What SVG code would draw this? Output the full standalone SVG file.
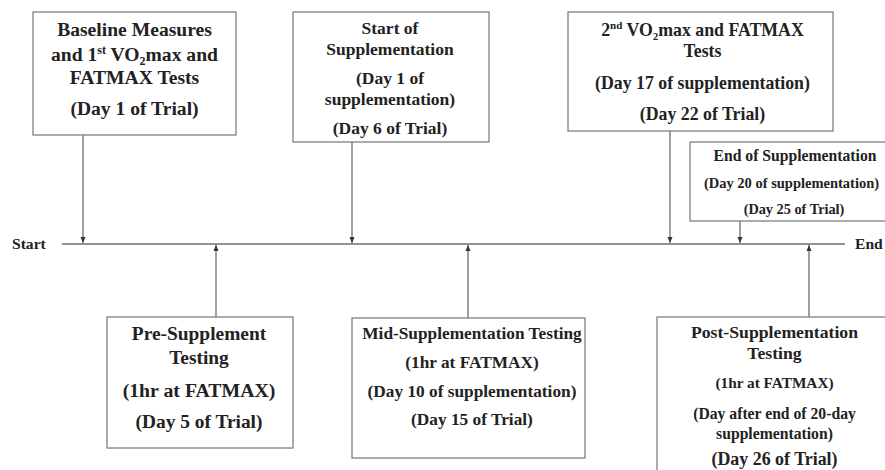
<svg xmlns="http://www.w3.org/2000/svg" width="885" height="470" viewBox="0 0 885 470">
<style>
  .box{fill:#fff;stroke:#808080;stroke-width:1.3}
  .ln{stroke:#6e6e6e;stroke-width:1.3;fill:none}
  text{font-family:"Liberation Serif","Times New Roman",serif;font-weight:bold;fill:#222;text-anchor:middle}
  .lbl{text-anchor:start;font-size:15.6px}
</style>
<defs>
  <marker id="ah" viewBox="0 0 6 6" refX="6" refY="3" markerWidth="6" markerHeight="6" orient="auto" markerUnits="userSpaceOnUse">
    <path d="M0,0.5 L6,3 L0,5.5 Z" fill="#333"/>
  </marker>
</defs>
<rect width="885" height="470" fill="#fff"/>

<g id="connectors">
  <line class="ln" x1="62" y1="244" x2="845" y2="244"/>
  <line class="ln" x1="83" y1="135" x2="83" y2="243" marker-end="url(#ah)"/>
  <line class="ln" x1="352" y1="142" x2="352" y2="243" marker-end="url(#ah)"/>
  <line class="ln" x1="670" y1="131" x2="670" y2="243" marker-end="url(#ah)"/>
  <line class="ln" x1="740" y1="221" x2="740" y2="243" marker-end="url(#ah)"/>
  <line class="ln" x1="216" y1="317" x2="216" y2="245" marker-end="url(#ah)"/>
  <line class="ln" x1="468" y1="318" x2="468" y2="245" marker-end="url(#ah)"/>
  <line class="ln" x1="809" y1="317" x2="809" y2="245" marker-end="url(#ah)"/>
</g>

<text class="lbl" x="12" y="249">Start</text>
<text class="lbl" x="855" y="249">End</text>

<g id="baseline">
  <rect class="box" x="33" y="12" width="203" height="123"/>
  <text x="134.5" y="36" font-size="19.6">Baseline Measures</text>
  <text x="134.5" y="61" font-size="19.6">and 1<tspan font-size="12" dy="-7">st</tspan><tspan dy="7"> VO</tspan><tspan font-size="12" dy="4">2</tspan><tspan dy="-4">max and</tspan></text>
  <text x="134.5" y="84" font-size="19.6">FATMAX Tests</text>
  <text x="134.5" y="115" font-size="19.6">(Day 1 of Trial)</text>
</g>

<g id="start-supp">
  <rect class="box" x="293" y="12" width="196" height="130"/>
  <text x="390" y="34" font-size="17.5">Start of</text>
  <text x="390" y="55" font-size="17.5">Supplementation</text>
  <text x="390" y="84" font-size="17.5">(Day 1 of</text>
  <text x="390" y="105" font-size="17.5">supplementation)</text>
  <text x="390" y="134" font-size="17.5">(Day 6 of Trial)</text>
</g>

<g id="second-test">
  <rect class="box" x="568" y="12" width="265" height="119"/>
  <text x="702.5" y="36" font-size="17.8">2<tspan font-size="11" dy="-7">nd</tspan><tspan dy="7"> VO</tspan><tspan font-size="11" dy="4">2</tspan><tspan dy="-4">max and FATMAX</tspan></text>
  <text x="702.5" y="57" font-size="17.8">Tests</text>
  <text x="702.5" y="89" font-size="17.8">(Day 17 of supplementation)</text>
  <text x="702.5" y="120" font-size="17.8">(Day 22 of Trial)</text>
</g>

<g id="end-supp">
  <rect class="box" x="690" y="142" width="200" height="79"/>
  <text x="795" y="161" font-size="15.7">End of Supplementation</text>
  <text x="791.5" y="188" font-size="14.5">(Day 20 of supplementation)</text>
  <text x="794" y="214" font-size="14.3">(Day 25 of Trial)</text>
</g>

<g id="pre-supp">
  <rect class="box" x="107" y="317" width="186" height="131"/>
  <text x="199" y="340" font-size="19.4">Pre-Supplement</text>
  <text x="199" y="364" font-size="19.4">Testing</text>
  <text x="199" y="397" font-size="19.8">(1hr at FATMAX)</text>
  <text x="199" y="428" font-size="19.4">(Day 5 of Trial)</text>
</g>

<g id="mid-supp">
  <rect class="box" x="352" y="318" width="233" height="140"/>
  <text x="472" y="339" font-size="17.3">Mid-Supplementation Testing</text>
  <text x="472" y="368" font-size="17.3">(1hr at FATMAX)</text>
  <text x="472" y="397" font-size="17.3">(Day 10 of supplementation)</text>
  <text x="472" y="425" font-size="17.3">(Day 15 of Trial)</text>
</g>

<g id="post-supp">
  <rect class="box" x="657" y="317" width="240" height="160"/>
  <text x="774.5" y="338" font-size="17.7">Post-Supplementation</text>
  <text x="774.5" y="359" font-size="17.7">Testing</text>
  <text x="774.5" y="388" font-size="15.3">(1hr at FATMAX)</text>
  <text x="774.5" y="419" font-size="15.7">(Day after end of 20-day</text>
  <text x="774.5" y="439" font-size="15.7">supplementation)</text>
  <text x="774.5" y="465" font-size="17.9">(Day 26 of Trial)</text>
</g>
</svg>
